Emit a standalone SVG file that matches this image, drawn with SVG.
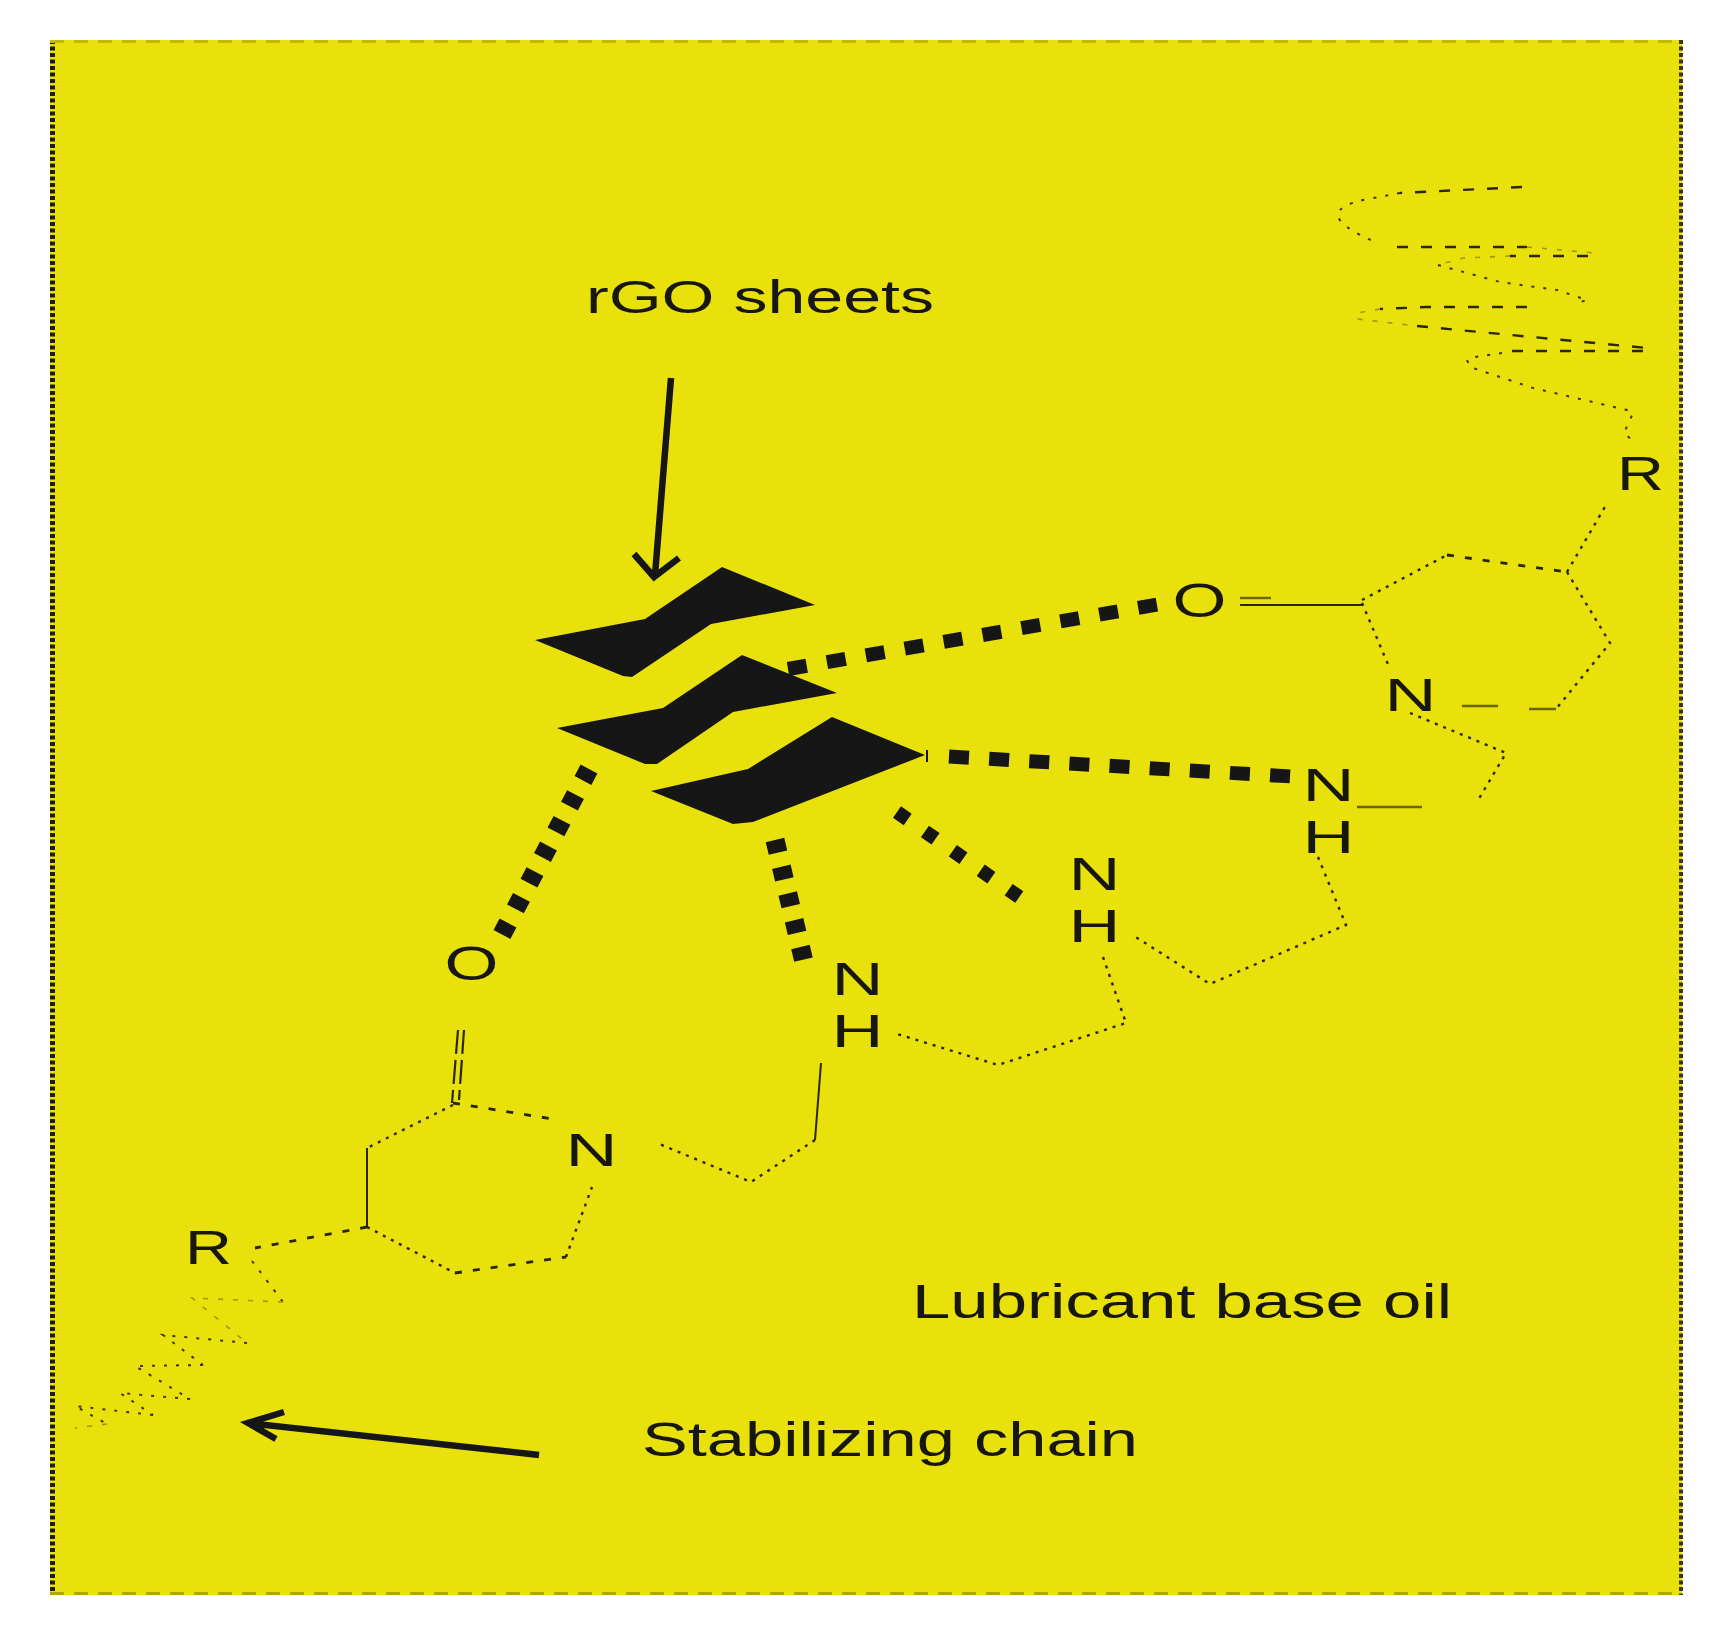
<svg xmlns="http://www.w3.org/2000/svg" width="1713" height="1626" viewBox="0 0 1713 1626">
<style>
text{font-family:"Liberation Sans",Arial,sans-serif;fill:#17170f}
.lab{font-size:48px}
.atom{font-size:46px}
.atomw{font-size:48px}
.hb,.thin,.wave,.faint,.arrow,.edge{fill:none}
.hb{stroke:#161616}
.thin{stroke:#2a2700;stroke-width:2.4;stroke-dasharray:3 6}
.wide{stroke-width:2.8;stroke-dasharray:7 11}
.solid{stroke-dasharray:none;stroke-width:2}
.olive{stroke:#6b6600;stroke-dasharray:none;stroke-width:2.4}
.dbl{stroke-dasharray:24 6;stroke-width:2.2}
.wave{stroke:#3a3600;stroke-width:2;stroke-dasharray:3 9}
.waved{stroke:#2a2700;stroke-width:2.4;stroke-dasharray:11 13}
.faint{stroke:#a09900;stroke-width:1.6;stroke-dasharray:5 10}
.arrow{stroke:#161616;stroke-width:6.5}
.sheet{fill:#161616}
</style>
<rect id="background" x="50" y="40" width="1632" height="1555" fill="#e9e10c"/>
<g id="frame" class="edge">
<path d="M52.5 40V1595" stroke="#1f1d00" stroke-width="5" stroke-dasharray="4 2.5"/>
<path d="M1681 40V1595" stroke="#3a3714" stroke-width="4" stroke-dasharray="4 2.5"/>
<path d="M50 41.5H1682" stroke="#c2ba00" stroke-width="3" stroke-dasharray="14 10"/>
<path d="M50 1593.5H1682" stroke="#b0a800" stroke-width="3" stroke-dasharray="14 10"/>
</g>
<g id="sheets">
<polygon id="sheet-1" class="sheet" points="535,640 645,619 722,567 815,605 711,624 632,677 623,676"/>
<polygon id="sheet-2" class="sheet" points="557,728 663,708 742,655 837,693 733,712 657,764 645,764"/>
<polygon id="sheet-3" class="sheet" points="651,791 748,769 832,717 925,755 753,822 733,824"/>
</g>
<g id="connectors">
<path class="hb" stroke-width="14" stroke-dasharray="19 20.5" d="M788 669L1160 604"/>
<path class="hb" stroke-width="14" stroke-dasharray="20 20.2" d="M949 756.5L1292 776.5"/>
<path class="hb" stroke-width="2" d="M927 750V762"/>
<path class="hb" stroke-width="14" stroke-dasharray="13 21" d="M897 812L1022 899"/>
<path class="hb" stroke-width="19" stroke-dasharray="13 14.5" d="M775 840L804 962"/>
<path class="hb" stroke-width="19" stroke-dasharray="13 16" d="M589 769L498 942"/>
<path class="arrow" d="M671 378L655 575M634 554L654 577L679 558"/>
<path class="arrow" d="M539 1455L247 1423M284 1412L248 1423L276 1439"/>
<g id="ring-upper">
<path class="thin solid" d="M1240 605H1362"/>
<path class="thin olive" d="M1240 598H1271"/>
<path class="thin" d="M1362 600L1447 555"/>
<path class="thin wide" d="M1447 555L1567 572"/>
<path class="thin" d="M1567 572L1610 643L1556 709"/>
<path class="thin" d="M1362 603L1390 669"/>
<path class="thin olive" d="M1556 709H1529M1498 706H1462"/>
<path class="thin" d="M1567 572L1606 505"/>
<path class="thin" d="M1410 713L1506 753L1477 802"/>
<path class="thin olive" d="M1357 807H1422"/>
</g>
<g id="chain-links">
<path class="thin" d="M1318 857L1346 925L1210 984L1134 936"/>
<path class="thin" d="M1103 957L1126 1023L998 1065L894 1033"/>
<path class="thin solid" d="M821 1063L815 1140"/>
<path class="thin" d="M815 1140L751 1182L657 1143"/>
</g>
<g id="ring-lower">
<path class="thin dbl" d="M458 1030L452 1103M464 1030L459 1100"/>
<path class="thin" d="M453 1105L367 1148"/>
<path class="thin solid" d="M367 1148V1227"/>
<path class="thin" d="M367 1227L455 1273"/>
<path class="thin wide" d="M455 1273L566 1257"/>
<path class="thin" d="M566 1257L592 1187"/>
<path class="thin wide" d="M453 1103L559 1120"/>
<path class="thin wide" d="M367 1227L255 1248"/>
</g>
<g id="stabilizing-chain-upper">
<path class="wave waved" d="M1522 187L1400 193"/>
<path class="wave" d="M1400 193L1368 199Q1338 205 1338 215Q1338 226 1377 243"/>
<path class="wave waved" d="M1397 247H1527"/>
<path class="faint" d="M1527 247L1595 253"/>
<path class="wave waved" d="M1588 256H1510"/>
<path class="faint" d="M1510 256L1463 258L1438 265"/>
<path class="wave" d="M1438 265L1500 282L1557 290L1587 300L1577 303"/>
<path class="wave waved" d="M1527 307H1427L1380 309"/>
<path class="faint" d="M1380 309L1357 313V319L1417 326"/>
<path class="wave waved" d="M1417 326L1647 348"/>
<path class="wave waved" d="M1643 351H1502"/>
<path class="wave" d="M1502 353L1475 357L1467 360L1470 367L1533 388L1627 410L1633 413L1624 433L1631 439"/>
</g>
<g id="stabilizing-chain-lower">
<path class="wave" d="M252 1261L283 1302"/>
<path class="faint" d="M283 1302L192 1298L247 1343"/>
<path class="wave" d="M247 1343L163 1335L203 1365"/>
<path class="wave" d="M203 1365L135 1366L190 1399"/>
<path class="wave" d="M190 1399L120 1393L153 1415"/>
<path class="wave" d="M153 1415L75 1406L107 1424"/>
<path class="faint" d="M107 1424L75 1428"/>
</g>
</g>
<g id="label-rgo"><text class="atom" x="586" y="313" textLength="348" lengthAdjust="spacingAndGlyphs">rGO sheets</text></g>
<g id="label-oil"><text class="lab" x="912" y="1318" textLength="540" lengthAdjust="spacingAndGlyphs">Lubricant base oil</text></g>
<g id="label-chain"><text class="lab" x="642" y="1456" textLength="496" lengthAdjust="spacingAndGlyphs">Stabilizing chain</text></g>
<g id="atom-o-upper"><text class="atomw" x="1172.5" y="617" textLength="54" lengthAdjust="spacingAndGlyphs">O</text></g>
<g id="atom-o-lower"><text class="atomw" x="444.5" y="980" textLength="54" lengthAdjust="spacingAndGlyphs">O</text></g>
<g id="atom-r-upper"><text class="atomw" x="1617" y="490" textLength="47" lengthAdjust="spacingAndGlyphs">R</text></g>
<g id="atom-r-lower"><text class="atomw" x="185" y="1264" textLength="47" lengthAdjust="spacingAndGlyphs">R</text></g>
<g id="atom-n-ring-upper"><text class="atom" x="1384.5" y="711" textLength="52" lengthAdjust="spacingAndGlyphs">N</text></g>
<g id="atom-n-ring-lower"><text class="atom" x="565.5" y="1166" textLength="52" lengthAdjust="spacingAndGlyphs">N</text></g>
<g id="atom-nh-3"><text class="atom" x="1302.5" y="801" textLength="52" lengthAdjust="spacingAndGlyphs">N</text><text class="atom" x="1302.5" y="853" textLength="52" lengthAdjust="spacingAndGlyphs">H</text></g>
<g id="atom-nh-2"><text class="atom" x="1068.5" y="890" textLength="52" lengthAdjust="spacingAndGlyphs">N</text><text class="atom" x="1068.5" y="942" textLength="52" lengthAdjust="spacingAndGlyphs">H</text></g>
<g id="atom-nh-1"><text class="atom" x="831.5" y="995" textLength="52" lengthAdjust="spacingAndGlyphs">N</text><text class="atom" x="831.5" y="1047" textLength="52" lengthAdjust="spacingAndGlyphs">H</text></g>
</svg>
